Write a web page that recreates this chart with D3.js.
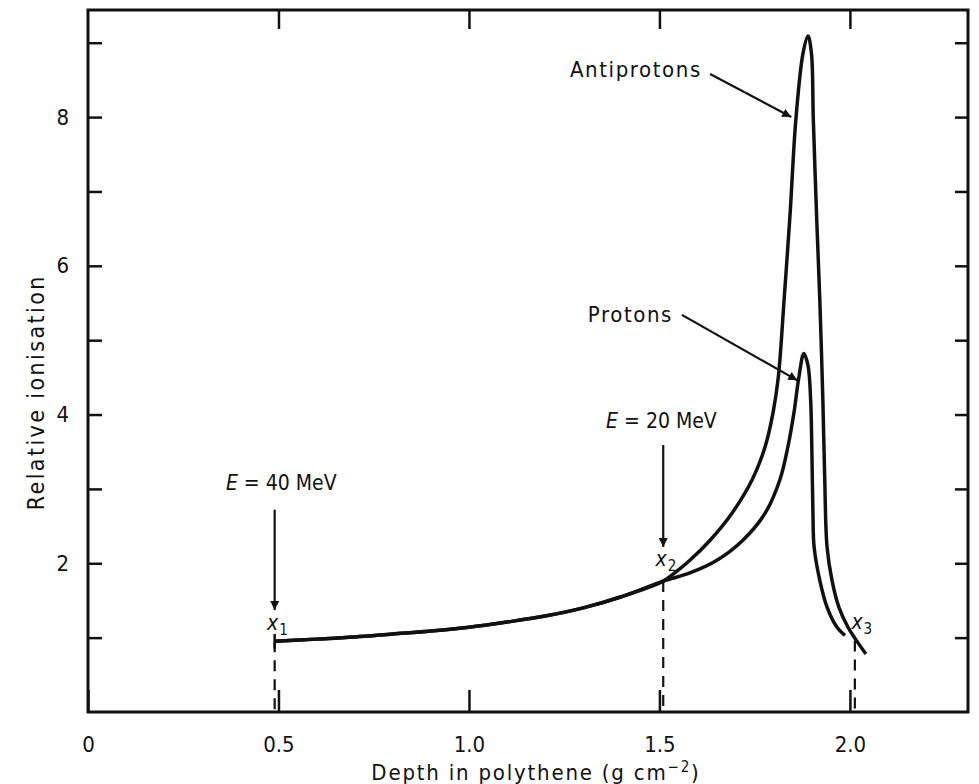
<!DOCTYPE html>
<html>
<head>
<meta charset="utf-8">
<script src="https://cdn.jsdelivr.net/npm/d3@7"></script>
<style>
    body { margin: 0; background: #fff; }
    svg { display: block; }
    text { font-family: "DejaVu Sans Condensed", "Liberation Sans Narrow", "Open Sans", sans-serif; fill: #111; }
</style>
</head>
<body>
<svg id="chart"></svg>
<script>
// Bragg curves: relative ionisation vs depth in polythene
// shared part of the curve (x1 -> x2)
const depthCommon = [0.49, 0.6, 0.7, 0.8, 0.9, 1.0, 1.1, 1.2, 1.3, 1.4, 1.51];
const ionCommon = [0.95, 0.98, 1.01, 1.05, 1.09, 1.14, 1.21, 1.29, 1.40, 1.55, 1.76];

// antiprotons after x2
const depthAnti = [1.54, 1.58, 1.633, 1.69, 1.743, 1.777, 1.798, 1.812, 1.828, 1.843, 1.858, 1.877, 1.89,
    1.899, 1.904, 1.913, 1.921, 1.929, 1.934, 1.94, 1.953, 1.971, 1.995, 2.016, 2.042];
const ionAnti = [1.87, 2.04, 2.31, 2.67, 3.12, 3.56, 4.02, 4.5, 5.6, 6.7, 7.96, 8.86, 9.09,
    8.86, 7.96, 6.61, 5.54, 4.19, 3.12, 2.22, 1.77, 1.41, 1.14, 0.97, 0.78];

// protons after x2
const depthProton = [1.58, 1.651, 1.719, 1.777, 1.816, 1.837, 1.853, 1.866, 1.879,
    1.89, 1.897, 1.9, 1.903, 1.906, 1.921, 1.94, 1.966, 1.987];
const ionProton = [1.87, 2.04, 2.31, 2.67, 3.12, 3.56, 4.02, 4.5, 4.82,
    4.66, 4.19, 3.56, 2.67, 2.22, 1.77, 1.41, 1.14, 1.03];

const xTickValues = [0, 0.5, 1.0, 1.5, 2.0];
const xTickLabels = ["0", "0.5", "1.0", "1.5", "2.0"];
const yTickValues = [1, 2, 3, 4, 5, 6, 7, 8, 9];
const yTickLabels = ["", "2", "", "4", "", "6", "", "8", ""];

// marked depths x1, x2, x3
const markNames = ["1", "2", "3"];
const markDepths = [0.49, 1.51, 2.013];
const markIons = [0.95, 1.76, 0.96];

// energy arrows
const energyLabels = ["40", "20"];
const energyDepths = [0.49, 1.51];

const width = 979;
const height = 784;
const margin = { top: 10, right: 11, bottom: 72, left: 88 };

const svg = d3.select("#chart")
    .attr("width", width)
    .attr("height", height);

const x = d3.scaleLinear()
    .domain([0, 2.31])
    .range([margin.left, width - margin.right]);

const y = d3.scaleLinear()
    .domain([0, 9.44])
    .range([height - margin.bottom, margin.top]);

// arrow heads
const defs = svg.append("defs");
defs.append("marker")
    .attr("id", "head")
    .attr("viewBox", "0 0 10 10")
    .attr("refX", 10)
    .attr("refY", 5)
    .attr("markerUnits", "userSpaceOnUse")
    .attr("markerWidth", 15)
    .attr("markerHeight", 9)
    .attr("orient", "auto")
    .append("path")
    .attr("d", "M0,0 L10,5 L0,10 Z")
    .attr("fill", "#111");

// frame ticks (all pointing inward)
function styleAxis(g) {
    g.select(".domain").remove();
    g.selectAll(".tick line").attr("stroke", "#111").attr("stroke-width", 2.5);
    g.selectAll(".tick text").style("font-size", "22px").attr("fill", "#111");
}

svg.append("g")
    .attr("transform", `translate(0, ${y(0)})`)
    .call(d3.axisBottom(x)
        .tickValues(xTickValues)
        .tickSize(-22)
        .tickPadding(24)
        .tickFormat((d, i) => xTickLabels[i]))
    .call(styleAxis);

svg.append("g")
    .attr("transform", `translate(0, ${margin.top})`)
    .call(d3.axisTop(x).tickValues(xTickValues.slice(1)).tickSize(-19).tickFormat(""))
    .call(styleAxis);

svg.append("g")
    .attr("transform", `translate(${x(0)}, 0)`)
    .call(d3.axisLeft(y)
        .tickValues(yTickValues)
        .tickSize(-14)
        .tickPadding(19)
        .tickFormat((d, i) => yTickLabels[i]))
    .call(styleAxis);

svg.append("g")
    .attr("transform", `translate(${x.range()[1]}, 0)`)
    .call(d3.axisRight(y).tickValues(yTickValues).tickSize(-13).tickFormat(""))
    .call(styleAxis);

svg.append("rect")
    .attr("x", x.range()[0])
    .attr("y", y.range()[1])
    .attr("width", x.range()[1] - x.range()[0])
    .attr("height", y.range()[0] - y.range()[1])
    .attr("fill", "none")
    .attr("stroke", "#111")
    .attr("stroke-width", 3);

// axis titles
const xTitle = svg.append("text")
    .attr("x", (x.range()[0] + x.range()[1]) / 2 + 8)
    .attr("y", height - 4)
    .attr("text-anchor", "middle")
    .style("font-size", "22px")
    .style("letter-spacing", "1.8px")
    .text("Depth in polythene (g cm");
xTitle.append("tspan").attr("dy", -8).style("font-size", "15px").text("\u22122");
xTitle.append("tspan").attr("dy", 8).text(")");

svg.append("text")
    .attr("transform", `translate(44, ${y(4.3)}) rotate(-90)`)
    .attr("text-anchor", "middle")
    .style("font-size", "23px")
    .style("letter-spacing", "2.4px")
    .text("Relative ionisation");

// curves
const line = d3.line()
    .x(d => x(d[0]))
    .y(d => y(d[1]))
    .curve(d3.curveCatmullRom.alpha(0.5));

const common = d3.zip(depthCommon, ionCommon);
const anti = common.concat(d3.zip(depthAnti, ionAnti));
const proton = common.concat(d3.zip(depthProton, ionProton));

[anti, proton].forEach(pts => {
    svg.append("path")
        .datum(pts)
        .attr("d", line)
        .attr("fill", "none")
        .attr("stroke", "#111")
        .attr("stroke-width", 3.5)
        .attr("stroke-linejoin", "round");
});

// dashed drop lines at x1, x2, x3
svg.selectAll(".drop")
    .data(markDepths)
    .enter()
    .append("line")
    .attr("class", "drop")
    .attr("x1", d => x(d))
    .attr("x2", d => x(d))
    .attr("y1", (d, i) => y(markIons[i]))
    .attr("y2", y(0))
    .attr("stroke", "#111")
    .attr("stroke-width", 2.2)
    .attr("stroke-dasharray", "11,8");

// small solid bar where the curve starts
svg.append("line")
    .attr("x1", x(markDepths[0])).attr("x2", x(markDepths[0]))
    .attr("y1", y(markIons[0] + 0.1)).attr("y2", y(markIons[0] - 0.1))
    .attr("stroke", "#111").attr("stroke-width", 2.5);

// x labels
const markLabelPos = [[0.47, 1.1], [1.49, 1.97], [2.004, 1.11]];
markNames.forEach((n, i) => {
    const t = svg.append("text")
        .attr("x", x(markLabelPos[i][0]))
        .attr("y", y(markLabelPos[i][1]))
        .style("font-size", "21px")
        .style("font-style", "italic")
        .text("x");
    t.append("tspan")
        .attr("dy", 5)
        .attr("dx", 1)
        .style("font-size", "15px")
        .style("font-style", "normal")
        .text(n);
});

// energy arrows
const energyArrowTop = [2.72, 3.59];
const energyArrowEnd = [1.37, 2.22];
const energyTextIon = [2.98, 3.82];
const energyTextDepth = [0.362, 1.36];
energyLabels.forEach((e, i) => {
    svg.append("line")
        .attr("x1", x(energyDepths[i])).attr("x2", x(energyDepths[i]))
        .attr("y1", y(energyArrowTop[i])).attr("y2", y(energyArrowEnd[i]))
        .attr("stroke", "#111")
        .attr("stroke-width", 2.2)
        .attr("marker-end", "url(#head)");

    const t = svg.append("text")
        .attr("x", x(energyTextDepth[i]))
        .attr("y", y(energyTextIon[i]))
        .style("font-size", "21px");
    t.append("tspan").style("font-style", "italic").text("E");
    t.append("tspan").text(" = ");
    t.append("tspan").text(e + " MeV");
});

// curve names with leader arrows
const curveNames = ["Antiprotons", "Protons"];
const nameDepth = [1.265, 1.312];
const nameIon = [8.54, 5.24];
const leaderFrom = [[1.633, 8.58], [1.559, 5.34]];
const leaderTo = [[1.846, 8.0], [1.862, 4.46]];
curveNames.forEach((n, i) => {
    svg.append("text")
        .attr("x", x(nameDepth[i]))
        .attr("y", y(nameIon[i]))
        .style("font-size", "22px")
        .style("letter-spacing", "1.6px")
        .text(n);
    svg.append("line")
        .attr("x1", x(leaderFrom[i][0])).attr("y1", y(leaderFrom[i][1]))
        .attr("x2", x(leaderTo[i][0])).attr("y2", y(leaderTo[i][1]))
        .attr("stroke", "#111")
        .attr("stroke-width", 2.2)
        .attr("marker-end", "url(#head)");
});
</script>
</body>
</html>
